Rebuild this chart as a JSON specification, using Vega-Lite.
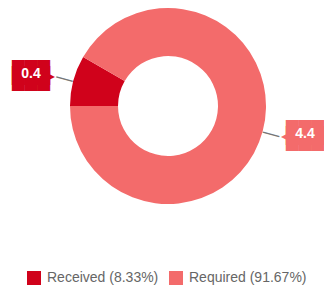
{
  "$schema": "https://vega.github.io/schema/vega-lite/v6.json",
  "width": 312,
  "height": 212,
  "padding": {"left": 12, "top": 0, "right": 0, "bottom": 76},
  "autosize": "none",
  "background": "white",
  "config": {"view": {"stroke": null}},
  "data": {
    "values": [
      {"cat": "Received (8.33%)", "value": 0.4},
      {"cat": "Required (91.67%)", "value": 4.4}
    ]
  },
  "layer": [
    {
      "mark": {"type": "arc", "innerRadius": 50, "outerRadius": 98},
      "encoding": {
        "theta": {"field": "value", "type": "quantitative", "stack": true, "scale": {"range": [4.712389, 10.995574]}},
        "color": {
          "field": "cat",
          "type": "nominal",
          "scale": {"domain": ["Received (8.33%)", "Required (91.67%)"], "range": ["#D0021B", "#F36B6B"]},
          "legend": {
            "title": null,
            "orient": "none",
            "direction": "horizontal",
            "legendX": 15,
            "legendY": 271,
            "symbolType": "square",
            "symbolSize": 196,
            "symbolStrokeWidth": 0,
            "symbolOpacity": 1,
            "labelFont": "Liberation Sans",
            "labelFontSize": 14,
            "labelColor": "#666666",
            "labelOffset": 6,
            "columnPadding": 10
          }
        }
      }
    },
    {
      "mark": {"type": "text", "text": "—", "radius": 107, "angle": 15, "fontSize": 19, "font": "DejaVu Sans", "color": "#777777", "baseline": "middle", "align": "center"},
      "encoding": {
        "theta": {"field": "value", "type": "quantitative", "stack": true, "scale": {"range": [4.712389, 10.995574]}},
        "detail": {"field": "cat", "type": "nominal"}
      }
    },
    {
      "mark": {
        "type": "text",
        "text": ["███", "███"],
        "lineHeight": 6,
        "font": "DejaVu Sans Mono",
        "fontSize": 21,
        "radius": 117,
        "baseline": "middle",
        "align": {"expr": "datum.cat === 'Received (8.33%)' ? 'right' : 'left'"},
        "dx": {"expr": "datum.cat === 'Received (8.33%)' ? -5 : 5"},
        "dy": -2
      },
      "encoding": {
        "theta": {"field": "value", "type": "quantitative", "stack": true, "scale": {"range": [4.712389, 10.995574]}},
        "color": {"field": "cat", "type": "nominal"}
      }
    },
    {
      "mark": {
        "type": "text",
        "font": "DejaVu Sans",
        "fontSize": 12,
        "radius": 117,
        "baseline": "middle",
        "align": {"expr": "datum.cat === 'Received (8.33%)' ? 'right' : 'left'"}
      },
      "encoding": {
        "theta": {"field": "value", "type": "quantitative", "stack": true, "scale": {"range": [4.712389, 10.995574]}},
        "color": {"field": "cat", "type": "nominal"},
        "text": {"condition": {"test": "datum.cat === 'Received (8.33%)'", "value": "▶"}, "value": "◀"}
      }
    },
    {
      "mark": {
        "type": "text",
        "font": "Liberation Sans",
        "fontSize": 14,
        "fontWeight": "bold",
        "color": "white",
        "radius": 117,
        "baseline": "middle",
        "align": "center",
        "dx": {"expr": "datum.cat === 'Received (8.33%)' ? -24 : 24"},
        "dy": -2
      },
      "encoding": {
        "theta": {"field": "value", "type": "quantitative", "stack": true, "scale": {"range": [4.712389, 10.995574]}},
        "detail": {"field": "cat", "type": "nominal"},
        "text": {"field": "value", "type": "quantitative"}
      }
    }
  ]
}
